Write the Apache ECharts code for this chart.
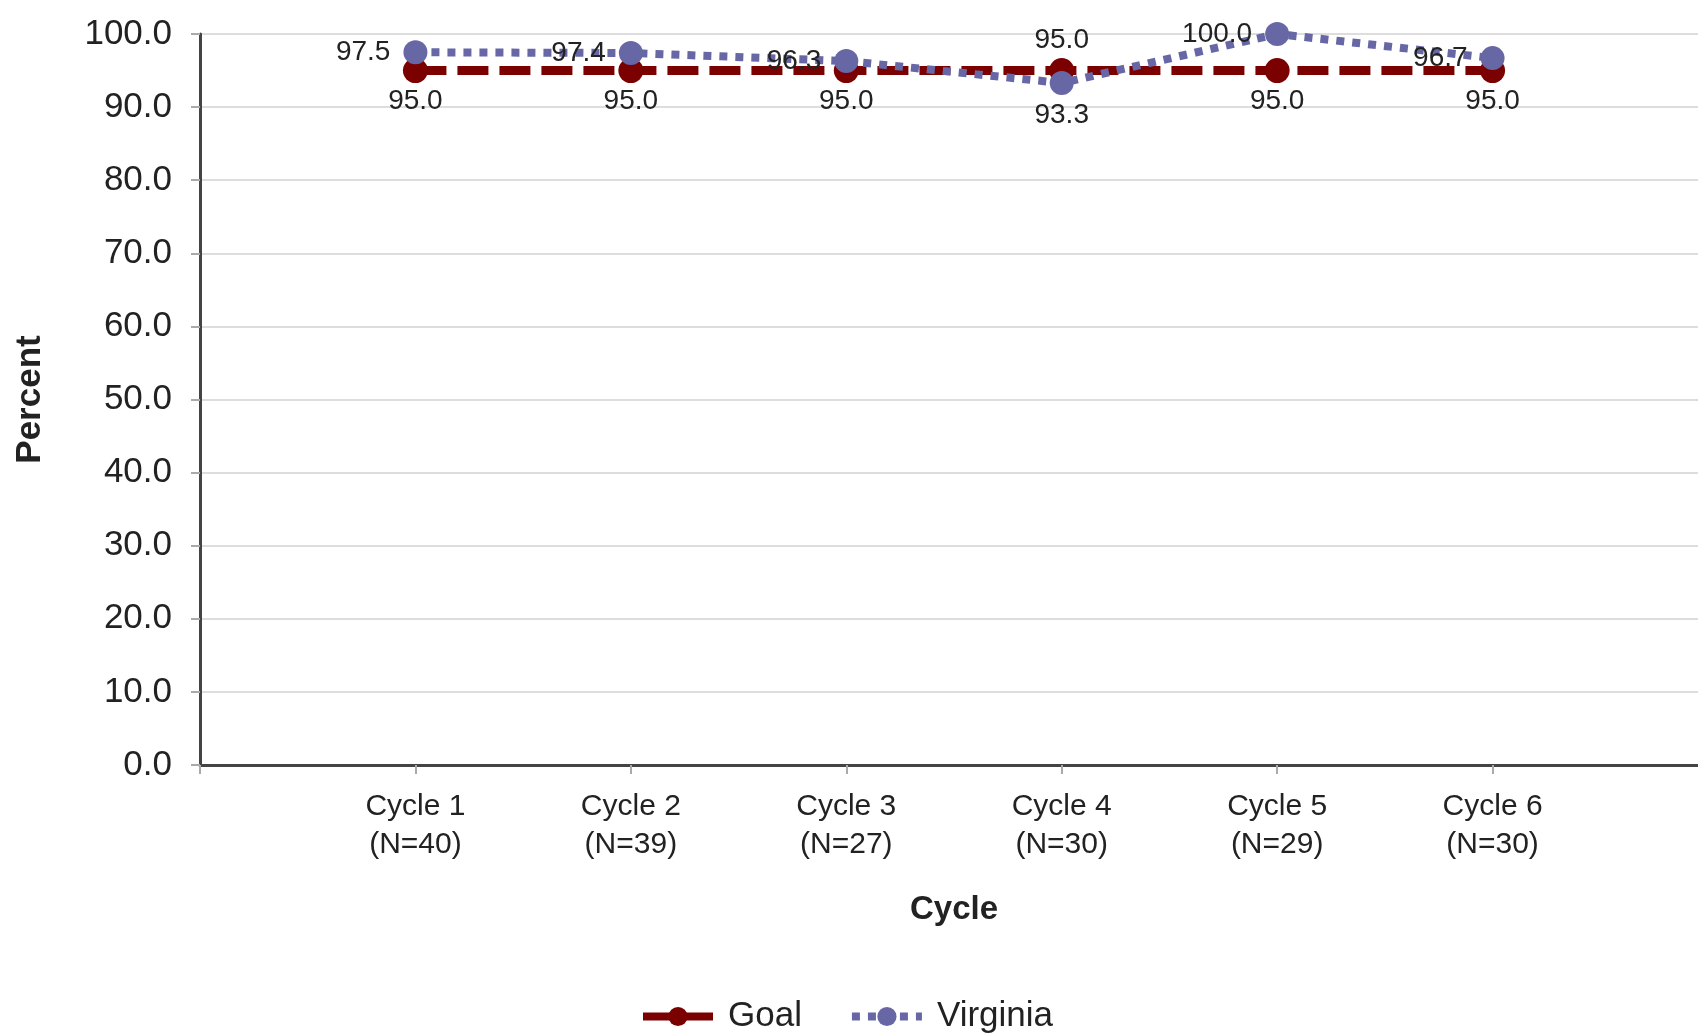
<!DOCTYPE html>
<html>
<head>
<meta charset="utf-8">
<script src="https://cdn.jsdelivr.net/npm/echarts@6/dist/echarts.min.js"></script>
<style>html,body{margin:0;padding:0;background:#fff}#c{width:1698px;height:1033px}</style>
</head>
<body>
<div id="c"></div>
<script>
const cycles = ['Cycle 1','Cycle 2','Cycle 3','Cycle 4','Cycle 5','Cycle 6'];
const counts = [40, 39, 27, 30, 29, 30];
const goalValues = [95.0, 95.0, 95.0, 95.0, 95.0, 95.0];
const virginiaValues = [97.5, 97.4, 96.3, 93.3, 100.0, 96.7];
const yTicks = [0,10,20,30,40,50,60,70,80,90,100];

const cats = [''].concat(cycles.map((c,i)=>c+'\n(N='+counts[i]+')')).concat(['']);
const font = 'Liberation Sans, Arial, sans-serif';

const goalData = [null].concat(goalValues.map((v,i)=>({
  value: v,
  label: {position: virginiaValues[i] < v ? 'top' : 'bottom', distance: 4}
}))).concat([null]);
const vaData = [null].concat(virginiaValues.map((v,i)=>{
  const below = v < goalValues[i];
  return {value: v, label: {position: below ? 'bottom' : 'left', distance: below ? 6 : 13}};
})).concat([null]);

const chart = echarts.init(document.getElementById('c'), null, {renderer:'canvas'});
chart.setOption({
  animation: false,
  backgroundColor: '#fff',
  textStyle: {fontFamily: font, color: '#222'},
  grid: {left: 200, top: 34, width: 1508, height: 731, outerBoundsMode: 'none', containLabel: false},
  legend: {
    top: 994, left: 634,
    itemWidth: 70, itemHeight: 24, itemGap: 46,
    lineStyle: {width: 8},
    textStyle: {fontSize: 35, color: '#222', fontFamily: font, padding: [0, 0, 0, 10]},
    data: ['Goal', 'Virginia']
  },
  xAxis: {
    type: 'category',
    data: cats,
    boundaryGap: false,
    name: 'Cycle',
    nameLocation: 'middle',
    nameGap: 128,
    nameTextStyle: {fontSize: 33, fontWeight: 'bold', color: '#222', fontFamily: font},
    axisLine: {lineStyle: {color: '#444', width: 3}},
    axisTick: {show: true, length: 9, lineStyle: {color: '#aaa', width: 2}},
    axisLabel: {fontSize: 30, color: '#222', margin: 23, lineHeight: 38, interval: 0, fontFamily: font},
    splitLine: {show: false}
  },
  yAxis: {
    type: 'value',
    min: yTicks[0], max: yTicks[yTicks.length-1], interval: 10,
    name: 'Percent',
    nameLocation: 'middle',
    nameGap: 152,
    nameTextStyle: {fontSize: 35, fontWeight: 'bold', color: '#222', fontFamily: font},
    axisLine: {show: true, lineStyle: {color: '#444', width: 3}},
    axisTick: {show: true, length: 9, lineStyle: {color: '#aaa', width: 2}},
    axisLabel: {fontSize: 35, color: '#222', margin: 28, formatter: v => v.toFixed(1), fontFamily: font},
    splitLine: {lineStyle: {color: '#ddd', width: 2}}
  },
  series: [
    {
      name: 'Goal',
      type: 'line',
      data: goalData,
      z: 2,
      symbol: 'circle',
      symbolSize: 25,
      itemStyle: {color: '#7b0000'},
      lineStyle: {color: '#7b0000', width: 9, type: [31, 11]},
      label: {show: true, fontSize: 28, color: '#222', formatter: p => p.value.toFixed(1), fontFamily: font}
    },
    {
      name: 'Virginia',
      type: 'line',
      data: vaData,
      z: 3,
      symbol: 'circle',
      symbolSize: 24,
      itemStyle: {color: '#6767a6'},
      lineStyle: {color: '#6767a6', width: 8, type: [8, 8]},
      label: {show: true, fontSize: 28, color: '#222', formatter: p => p.value.toFixed(1), fontFamily: font}
    }
  ]
});
</script>
</body>
</html>
